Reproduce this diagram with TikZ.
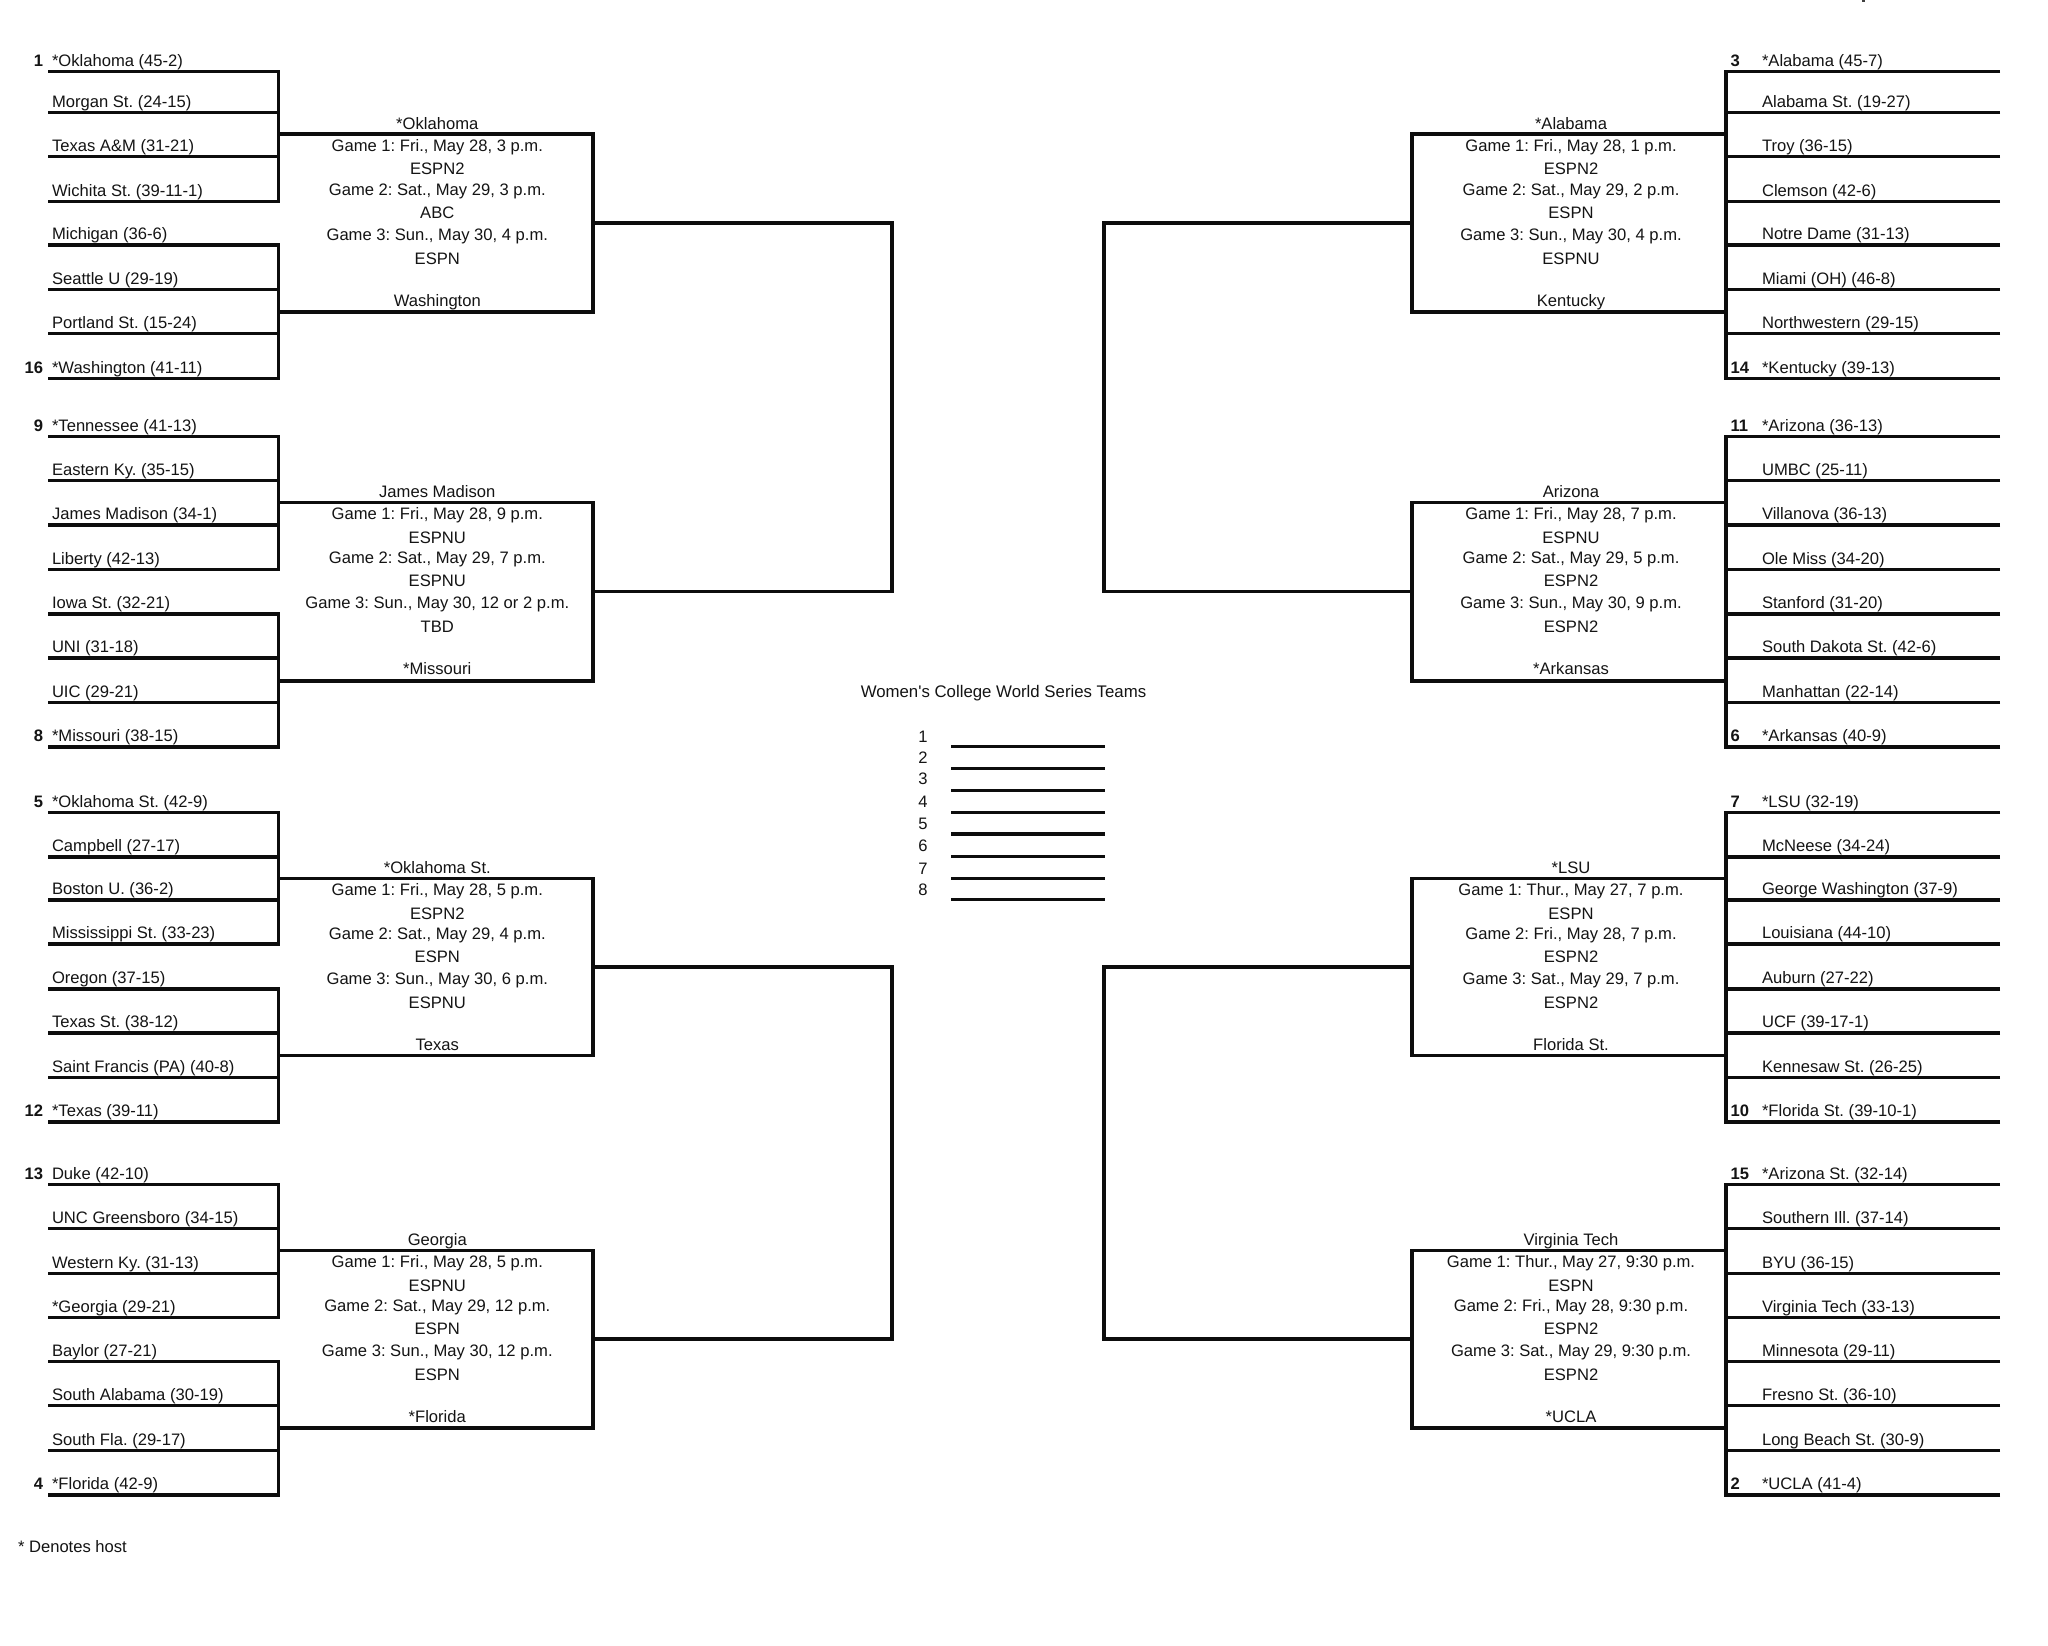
\documentclass[tikz,border=0pt]{standalone}
\usepackage{fontspec}
\newfontfamily\lib{Liberation Sans}
\frenchspacing
\tikzset{
  lbl/.style={font=\lib\frenchspacing\fontsize{16.6}{20}\selectfont, text=black!92, inner sep=0pt, outer sep=0pt},
  team/.style={lbl, anchor=base west},
  seedL/.style={lbl, font=\lib\bfseries\fontsize{16.6}{20}\selectfont, anchor=base east},
  seedR/.style={lbl, font=\lib\bfseries\fontsize{16.6}{20}\selectfont, anchor=base west},
  mid/.style={lbl, anchor=base},
  title/.style={mid, font=\lib\frenchspacing\fontsize{16.8}{20}\selectfont},
  br/.style={line width=3.3pt, black!95, line cap=butt, line join=miter},
  brv/.style={br, line cap=rect},
}
\newcommand{\podtext}[3]{% id, box top y, list
  \foreach \txt [count=\k] in {#3} {
    \pgfmathsetmacro\yy{#2+{-5,17,40.7,61,84,106,130,172}[\k-1]}
    \node[mid] (#1x\k) at (\bx,\yy) {\txt};
  }
}
% id, top, bottom, out y, teams y/name, seeds y/seed, box lines
\newcommand{\podL}[7]{
  \def\bx{437.3}
  \foreach \y/\name [count=\k] in {#5} {
    \coordinate (#1a\k) at (48,\y);
    \coordinate (#1b\k) at (278.3,\y);
    \draw[br] (#1a\k) -- (#1b\k);
    \pgfmathsetmacro\yt{\y-5.2}
    \node[team] (#1t\k) at (52,\yt) {\name};
  }
  \foreach \y/\sd [count=\k] in {#6} {
    \pgfmathsetmacro\yt{\y-5.2}
    \node[seedL] (#1s\k) at (43,\yt) {\sd};
  }
  \draw[brv] (#1b1) -- (#1b4);
  \draw[brv] (#1b5) -- (#1b8);
  \coordinate (#1tl) at (278.3,#2);
  \coordinate (#1tr) at (593,#2);
  \coordinate (#1bl) at (278.3,#3);
  \coordinate (#1br) at (593,#3);
  \coordinate (#1o) at (593,#4);
  \coordinate (#1j) at (892,#4);
  \draw[br] (#1tl) -- (#1tr) -- (#1br) -- (#1bl);
  \draw[br] (#1o) -- (#1j);
  \podtext{#1}{#2}{#7}
}
\newcommand{\podR}[7]{
  \def\bx{1571}
  \foreach \y/\name [count=\k] in {#5} {
    \coordinate (#1a\k) at (2000,\y);
    \coordinate (#1b\k) at (1726,\y);
    \draw[br] (#1a\k) -- (#1b\k);
    \pgfmathsetmacro\yt{\y-5.2}
    \node[team] (#1t\k) at (1762,\yt) {\name};
  }
  \foreach \y/\sd [count=\k] in {#6} {
    \pgfmathsetmacro\yt{\y-5.2}
    \node[seedR] (#1s\k) at (1730.5,\yt) {\sd};
  }
  \draw[brv] (#1b1) -- (#1b8);
  \coordinate (#1tl) at (1412,#2);
  \coordinate (#1tr) at (1726,#2);
  \coordinate (#1bl) at (1412,#3);
  \coordinate (#1br) at (1726,#3);
  \coordinate (#1o) at (1412,#4);
  \coordinate (#1j) at (1104,#4);
  \draw[br] (#1tr) -- (#1tl) -- (#1bl) -- (#1br);
  \draw[br] (#1o) -- (#1j);
  \podtext{#1}{#2}{#7}
}
\begin{document}
\begin{tikzpicture}[x=1pt,y=-1pt]
\useasboundingbox[fill=white] (0,0) rectangle (2048,1646);

\podL{A}{134}{312}{223}
 {71.3/{*Oklahoma (45-2)},112.7/{Morgan St. (24-15)},156.7/{Texas A\&M (31-21)},201.3/{Wichita St. (39-11-1)},245/{Michigan (36-6)},289.7/{Seattle U (29-19)},333.7/{Portland St. (15-24)},378.7/{*Washington (41-11)}}
 {71.3/1,378.7/16}
 {{*Oklahoma},{Game 1: Fri., May 28, 3 p.m.},{ESPN2},{Game 2: Sat., May 29, 3 p.m.},{ABC},{Game 3: Sun., May 30, 4 p.m.},{ESPN},{Washington}}
\podL{B}{502.5}{681}{591.5}
 {436.3/{*Tennessee (41-13)},480.6/{Eastern Ky. (35-15)},525/{James Madison (34-1)},569.5/{Liberty (42-13)},614/{Iowa St. (32-21)},658/{UNI (31-18)},702.6/{UIC (29-21)},747/{*Missouri (38-15)}}
 {436.3/9,747/8}
 {{James Madison},{Game 1: Fri., May 28, 9 p.m.},{ESPNU},{Game 2: Sat., May 29, 7 p.m.},{ESPNU},{Game 3: Sun., May 30, 12 or 2 p.m.},{TBD},{*Missouri}}
\podL{C}{878.5}{1055.5}{967}
 {812.3/{*Oklahoma St. (42-9)},857/{Campbell (27-17)},900/{Boston U. (36-2)},944/{Mississippi St. (33-23)},989/{Oregon (37-15)},1033/{Texas St. (38-12)},1077.6/{Saint Francis (PA) (40-8)},1122/{*Texas (39-11)}}
 {812.3/5,1122/12}
 {{*Oklahoma St.},{Game 1: Fri., May 28, 5 p.m.},{ESPN2},{Game 2: Sat., May 29, 4 p.m.},{ESPN},{Game 3: Sun., May 30, 6 p.m.},{ESPNU},{Texas}}
\podL{D}{1250.5}{1428}{1339}
 {1184.3/{Duke (42-10)},1228.8/{UNC Greensboro (34-15)},1273.3/{Western Ky. (31-13)},1317.7/{*Georgia (29-21)},1361.3/{Baylor (27-21)},1405.7/{South Alabama (30-19)},1450.3/{South Fla. (29-17)},1495/{*Florida (42-9)}}
 {1184.3/13,1495/4}
 {{Georgia},{Game 1: Fri., May 28, 5 p.m.},{ESPNU},{Game 2: Sat., May 29, 12 p.m.},{ESPN},{Game 3: Sun., May 30, 12 p.m.},{ESPN},{*Florida}}

\podR{E}{134}{312}{223}
 {71.3/{*Alabama (45-7)},112.7/{Alabama St. (19-27)},156.7/{Troy (36-15)},201.3/{Clemson (42-6)},245/{Notre Dame (31-13)},289.7/{Miami (OH) (46-8)},333.7/{Northwestern (29-15)},378.7/{*Kentucky (39-13)}}
 {71.3/3,378.7/14}
 {{*Alabama},{Game 1: Fri., May 28, 1 p.m.},{ESPN2},{Game 2: Sat., May 29, 2 p.m.},{ESPN},{Game 3: Sun., May 30, 4 p.m.},{ESPNU},{Kentucky}}
\podR{F}{502.5}{681}{591.5}
 {436.3/{*Arizona (36-13)},480.6/{UMBC (25-11)},525/{Villanova (36-13)},569.5/{Ole Miss (34-20)},614/{Stanford (31-20)},658/{South Dakota St. (42-6)},702.6/{Manhattan (22-14)},747/{*Arkansas (40-9)}}
 {436.3/11,747/6}
 {{Arizona},{Game 1: Fri., May 28, 7 p.m.},{ESPNU},{Game 2: Sat., May 29, 5 p.m.},{ESPN2},{Game 3: Sun., May 30, 9 p.m.},{ESPN2},{*Arkansas}}
\podR{G}{878.5}{1055.5}{967}
 {812.3/{*LSU (32-19)},857/{McNeese (34-24)},900/{George Washington (37-9)},944/{Louisiana (44-10)},989/{Auburn (27-22)},1033/{UCF (39-17-1)},1077.6/{Kennesaw St. (26-25)},1122/{*Florida St. (39-10-1)}}
 {812.3/7,1122/10}
 {{*LSU},{Game 1: Thur., May 27, 7 p.m.},{ESPN},{Game 2: Fri., May 28, 7 p.m.},{ESPN2},{Game 3: Sat., May 29, 7 p.m.},{ESPN2},{Florida St.}}
\podR{H}{1250.5}{1428}{1339}
 {1184.3/{*Arizona St. (32-14)},1228.8/{Southern Ill. (37-14)},1273.3/{BYU (36-15)},1317.7/{Virginia Tech (33-13)},1361.3/{Minnesota (29-11)},1405.7/{Fresno St. (36-10)},1450.3/{Long Beach St. (30-9)},1495/{*UCLA (41-4)}}
 {1184.3/15,1495/2}
 {{Virginia Tech},{Game 1: Thur., May 27, 9:30 p.m.},{ESPN},{Game 2: Fri., May 28, 9:30 p.m.},{ESPN2},{Game 3: Sat., May 29, 9:30 p.m.},{ESPN2},{*UCLA}}

% regional joins
\draw[brv] (Aj) -- (Bj);
\draw[brv] (Cj) -- (Dj);
\draw[brv] (Ej) -- (Fj);
\draw[brv] (Gj) -- (Hj);

% centre
\node[title] (wcws) at (1003.5,697) {Women's College World Series Teams};
\foreach \n/\yl/\yn in {1/746.7/742,2/768.7/763,3/790.7/784.5,4/812.3/807.5,5/834/829,6/856.7/851.5,7/878.7/874,8/899.5/895} {
  \coordinate (w\n a) at (951,\yl);
  \coordinate (w\n b) at (1105,\yl);
  \draw[br] (w\n a) -- (w\n b);
  \node[mid] (w\n) at (923,\yn) {\n};
}
\node[team] (note) at (18,1552.5) {* Denotes host};
% clipped remnant of cropped text at the top edge
\fill[black!75] (1862,0) rectangle (1865,1.6);
\end{tikzpicture}
\end{document}
